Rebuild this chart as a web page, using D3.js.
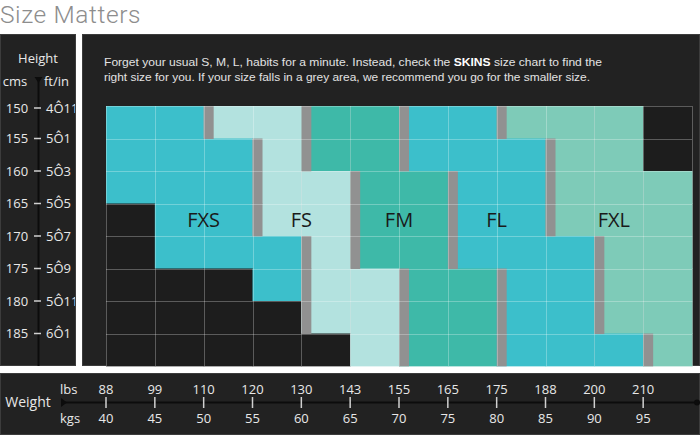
<!DOCTYPE html>
<html><head><meta charset="utf-8">
<script src="https://cdn.jsdelivr.net/npm/d3@7"></script>
<style>body{margin:0;background:#fff;} svg{display:block}</style>
</head><body><svg id="c" width="700" height="435"></svg>
<script>
// ---------- data ----------
const title = "Size Matters";
const introLine1 = ["Forget your usual S, M, L, habits for a minute. Instead, check the ", "SKINS", " size chart to find the"];
const introLine2 = "right size for you. If your size falls in a grey area, we recommend you go for the smaller size.";
const kgs = [40,45,50,55,60,65,70,75,80,85,90,95];
const lbs = [88,99,110,120,130,143,155,165,175,188,200,210];
const cms = [150,155,160,165,170,175,180,185];
const ftin = ["4Ô11","5Ô1","5Ô3","5Ô5","5Ô7","5Ô9","5Ô11","6Ô1"];
const sizes = ["FXS","FS","FM","FL","FXL"];
const sizeColors = ["#3cbfcb","#b3e2df","#3eb9a8","#3cbfcb","#7ecbb8"];
const sizeLabelKg = [50,60,70,80,92];
const sizeLabelCm = [165,165,165,165,165];
// size per (height row, weight column); "-" = no size
const sizeGrid = [
  ["FXS","FXS","FS","FS","FM","FM","FL","FL","FXL","FXL","FXL","-"],
  ["FXS","FXS","FXS","FS","FM","FM","FL","FL","FL","FXL","FXL","-"],
  ["FXS","FXS","FXS","FS","FS","FM","FM","FL","FL","FXL","FXL","FXL"],
  ["-","FXS","FXS","FS","FS","FM","FM","FL","FL","FXL","FXL","FXL"],
  ["-","FXS","FXS","FXS","FS","FM","FM","FL","FL","FL","FXL","FXL"],
  ["-","-","-","FXS","FS","FS","FM","FM","FL","FL","FXL","FXL"],
  ["-","-","-","-","FS","FS","FM","FM","FL","FL","FXL","FXL"],
  ["-","-","-","-","-","FS","FM","FM","FL","FL","FL","FXL"]
];
// weight column index where a grey area starts, per height row
const greyAreaCols = [
  [2,4,6,8],[3,4,6,9],[3,5,7,9],[3,5,7,9],[4,5,7,10],[4,6,8,10],[4,6,8,10],[6,8,11]
];

// ---------- drawing ----------
const svg = d3.select("#c");
const x = d3.scaleLinear().domain([40,100]).range([106,692]);
const y = d3.scaleLinear().domain([150,190]).range([106,366]);
const color = d3.scaleOrdinal().domain(sizes).range(sizeColors).unknown("#1d1d1d");
const cellW = x(45)-x(40), cellH = y(155)-y(150);

// title
svg.append("text").attr("x",0).attr("y",23)
  .attr("font-family","Roboto, 'Open Sans', sans-serif").attr("font-weight",300)
  .attr("font-size",24.5).attr("letter-spacing",0.6).attr("fill","#8d8d8d").text(title);

// panels
svg.append("rect").attr("x",0.5).attr("y",34.5).attr("width",75).attr("height",331)
  .attr("fill","#222").attr("stroke","#3c3c3c");
svg.append("rect").attr("x",82.5).attr("y",34.5).attr("width",617).attr("height",331)
  .attr("fill","#222").attr("stroke","#3c3c3c");
svg.append("rect").attr("x",0.5).attr("y",373.5).attr("width",699).attr("height",61)
  .attr("fill","#222").attr("stroke","#3c3c3c");

// intro text
const i1 = svg.append("text").attr("x",104).attr("y",65.5)
  .attr("font-family","'Liberation Sans', Arial, sans-serif").attr("font-size",11.5).attr("fill","#e2e2e2");
introLine1.forEach((s,k)=>{
  i1.append("tspan").attr("font-weight",k===1?"bold":null).attr("fill",k===1?"#fff":null).text(s);
});
i1.attr("textLength",498).attr("lengthAdjust","spacingAndGlyphs");
svg.append("text").attr("x",104).attr("y",80.5)
  .attr("font-family","'Liberation Sans', Arial, sans-serif").attr("font-size",11.5).attr("fill","#e2e2e2")
  .attr("textLength",486).attr("lengthAdjust","spacingAndGlyphs").text(introLine2);

// cells
const cells = [];
sizeGrid.forEach((row,r)=>row.forEach((s,c)=>cells.push({cm:cms[r],kg:kgs[c],size:s})));
const g = svg.append("g");
g.selectAll("rect.cell").data(cells).join("rect").attr("class","cell")
  .attr("x",d=>x(d.kg)).attr("y",d=>y(d.cm))
  .attr("width",cellW+0.5).attr("height",cellH+0.5)
  .attr("fill",d=>color(d.size));

// grey areas
const greys = [];
greyAreaCols.forEach((cols,r)=>cols.forEach(c=>greys.push({cm:cms[r],kg:kgs[c]})));
g.selectAll("rect.grey").data(greys).join("rect").attr("class","grey")
  .attr("x",d=>x(d.kg)).attr("y",d=>y(d.cm))
  .attr("width",cellW*0.205).attr("height",cellH+0.5)
  .attr("fill","#919191");

// grid lines
const gl = svg.append("g").attr("stroke","rgba(255,255,255,0.28)").attr("stroke-width",1);
kgs.concat([100]).forEach(k=>{
  gl.append("line").attr("x1",Math.round(x(k))+0.5).attr("x2",Math.round(x(k))+0.5)
    .attr("y1",y(150)).attr("y2",y(190));
});
cms.concat([190]).forEach(c=>{
  gl.append("line").attr("y1",Math.round(y(c))+0.5).attr("y2",Math.round(y(c))+0.5)
    .attr("x1",x(40)).attr("x2",x(100));
});

// size labels
svg.append("g").selectAll("text").data(sizes).join("text")
  .attr("x",(d,i)=>x(sizeLabelKg[i])).attr("y",(d,i)=>y(sizeLabelCm[i])+cellH/2)
  .attr("dy","0.36em").attr("text-anchor","middle")
  .attr("font-family","'Open Sans', sans-serif").attr("font-size",20).attr("fill","#1a1a1a")
  .text(d=>d);

// ---------- left (height) axis ----------
const defs = svg.append("defs");
defs.append("clipPath").attr("id","lp").append("rect").attr("x",0).attr("y",34).attr("width",75).attr("height",332);
const la = svg.append("g").attr("clip-path","url(#lp)")
  .attr("font-family","'Open Sans', sans-serif").attr("fill","#e8e8e8");
la.append("text").attr("x",38).attr("y",63).attr("text-anchor","middle").attr("font-size",13).text("Height");
la.append("text").attr("x",15).attr("y",86).attr("text-anchor","middle").attr("font-size",13).text("cms");
la.append("text").attr("x",44).attr("y",86).attr("font-size",13).text("ft/in");
la.append("line").attr("x1",38.5).attr("x2",38.5).attr("y1",80).attr("y2",366)
  .attr("stroke","#0c0c0c").attr("stroke-width",2);
la.append("path").attr("d","M34.5,77L42.5,77L38.5,83Z").attr("fill","#0c0c0c");
la.selectAll("line.tk").data(cms).join("line").attr("class","tk")
  .attr("x1",34).attr("x2",41).attr("y1",(d,i)=>y(d)+(i===0?2:0)).attr("y2",(d,i)=>y(d)+(i===0?2:0))
  .attr("stroke","#d0d0d0").attr("stroke-width",1.5);
la.selectAll("text.cm").data(cms).join("text").attr("class","cm")
  .attr("x",17).attr("y",(d,i)=>y(d)+(i===0?2:0)).attr("dy","0.36em").attr("text-anchor","middle")
  .attr("font-size",13).text(d=>d);
la.selectAll("text.ft").data(ftin).join("text").attr("class","ft")
  .attr("x",46).attr("y",(d,i)=>y(cms[i])+(i===0?2:0)).attr("dy","0.36em")
  .attr("font-size",13).text(d=>d);

// ---------- bottom (weight) axis ----------
const ba = svg.append("g").attr("font-family","'Open Sans', sans-serif").attr("fill","#e8e8e8");
ba.append("text").attr("x",28).attr("y",402).attr("dy","0.36em").attr("text-anchor","middle").attr("font-size",14).text("Weight");
ba.append("text").attr("x",60).attr("y",389).attr("dy","0.36em").attr("font-size",13).text("lbs");
ba.append("text").attr("x",60).attr("y",418).attr("dy","0.36em").attr("font-size",13).text("kgs");
ba.append("line").attr("x1",62).attr("x2",698).attr("y1",402.5).attr("y2",402.5)
  .attr("stroke","#0c0c0c").attr("stroke-width",2);
ba.append("path").attr("d","M61,398L61,407L67,402.5Z").attr("fill","#0c0c0c");
ba.append("circle").attr("cx",697).attr("cy",402.5).attr("r",3).attr("fill","#0c0c0c");
ba.selectAll("line.tk").data(kgs).join("line").attr("class","tk")
  .attr("x1",d=>x(d)).attr("x2",d=>x(d)).attr("y1",397).attr("y2",408)
  .attr("stroke","#d0d0d0").attr("stroke-width",1.5);
ba.selectAll("text.lb").data(lbs).join("text").attr("class","lb")
  .attr("x",(d,i)=>x(kgs[i])).attr("y",389).attr("dy","0.36em").attr("text-anchor","middle")
  .attr("font-size",13).text(d=>d);
ba.selectAll("text.kg").data(kgs).join("text").attr("class","kg")
  .attr("x",d=>x(d)).attr("y",418).attr("dy","0.36em").attr("text-anchor","middle")
  .attr("font-size",13).text(d=>d);
</script></body></html>
